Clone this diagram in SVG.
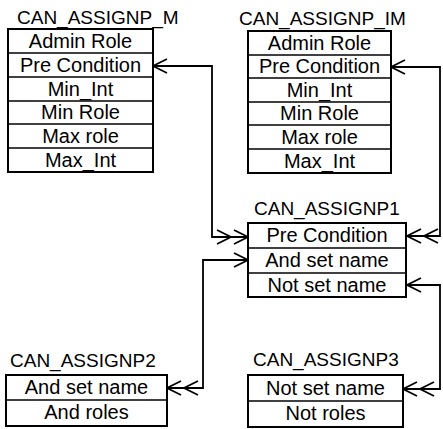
<svg xmlns="http://www.w3.org/2000/svg" width="443" height="429" viewBox="0 0 443 429">
  <style>
    .title { font-family: "Liberation Sans", Arial, sans-serif; font-size: 19px; fill: #000; }
    .cell { font-family: "Liberation Sans", Arial, sans-serif; font-size: 20px; fill: #000; text-anchor: middle; }
    .box { fill: #fff; stroke: #000; stroke-width: 2; }
    .sep { stroke: #000; stroke-width: 1.6; }
    .link { fill: none; stroke: #000; stroke-width: 1.8; }
  </style>
  <defs>
    <!-- single chevron ("one") -->
    <marker id="one" viewBox="-34 -10 36 20" refX="0" refY="0" markerWidth="36" markerHeight="20" markerUnits="userSpaceOnUse" orient="auto-start-reverse" overflow="visible">
      <path d="M-14,-7 L0,0 L-14,7" fill="none" stroke="#000" stroke-width="1.8"/>
    </marker>
    <!-- double chevron ("many") -->
    <marker id="many" viewBox="-34 -10 36 20" refX="0" refY="0" markerWidth="36" markerHeight="20" markerUnits="userSpaceOnUse" orient="auto-start-reverse" overflow="visible">
      <path d="M-14,-7 L0,0 L-14,7 M-31,-7 L-17,0 L-31,7" fill="none" stroke="#000" stroke-width="1.8"/>
    </marker>
  </defs>

  <rect width="443" height="429" fill="#fff"/>

  <!-- relationships -->
  <g id="connectors">
    <path class="link" d="M153,66 H212 V237 H248" marker-start="url(#one)" marker-end="url(#many)"/>
    <path class="link" d="M391,67 H440 V236 H407" marker-start="url(#one)" marker-end="url(#many)"/>
    <path class="link" d="M167,388 H203 V260 H248" marker-start="url(#many)" marker-end="url(#one)"/>
    <path class="link" d="M407,285 H440 V389 H403" marker-start="url(#one)" marker-end="url(#many)"/>
  </g>

  <!-- CAN_ASSIGNP_M -->
  <g id="can_assignp_m">
    <text class="title" x="17" y="24">CAN_ASSIGNP_M</text>
    <rect class="box" x="8" y="29" width="145" height="143"/>
    <line class="sep" x1="8" y1="53" x2="153" y2="53"/>
    <line class="sep" x1="8" y1="77" x2="153" y2="77"/>
    <line class="sep" x1="8" y1="101" x2="153" y2="101"/>
    <line class="sep" x1="8" y1="124" x2="153" y2="124"/>
    <line class="sep" x1="8" y1="148" x2="153" y2="148"/>
    <text class="cell" x="80.5" y="48">Admin Role</text>
    <text class="cell" x="80.5" y="72">Pre Condition</text>
    <text class="cell" x="80.5" y="96">Min_Int</text>
    <text class="cell" x="80.5" y="119">Min Role</text>
    <text class="cell" x="80.5" y="143">Max role</text>
    <text class="cell" x="80.5" y="167">Max_Int</text>
  </g>

  <!-- CAN_ASSIGNP_IM -->
  <g id="can_assignp_im">
    <text class="title" x="239" y="25">CAN_ASSIGNP_IM</text>
    <rect class="box" x="248" y="31" width="143" height="142"/>
    <line class="sep" x1="248" y1="55" x2="391" y2="55"/>
    <line class="sep" x1="248" y1="78" x2="391" y2="78"/>
    <line class="sep" x1="248" y1="102" x2="391" y2="102"/>
    <line class="sep" x1="248" y1="125" x2="391" y2="125"/>
    <line class="sep" x1="248" y1="149" x2="391" y2="149"/>
    <text class="cell" x="319.5" y="50">Admin Role</text>
    <text class="cell" x="319.5" y="73">Pre Condition</text>
    <text class="cell" x="319.5" y="97">Min_Int</text>
    <text class="cell" x="319.5" y="120">Min Role</text>
    <text class="cell" x="319.5" y="144">Max role</text>
    <text class="cell" x="319.5" y="168">Max_Int</text>
  </g>

  <!-- CAN_ASSIGNP1 -->
  <g id="can_assignp1">
    <text class="title" x="254" y="215">CAN_ASSIGNP1</text>
    <rect class="box" x="248" y="223" width="158" height="74"/>
    <line class="sep" x1="248" y1="248" x2="406" y2="248"/>
    <line class="sep" x1="248" y1="273" x2="406" y2="273"/>
    <text class="cell" x="327" y="242">Pre Condition</text>
    <text class="cell" x="327" y="267">And set name</text>
    <text class="cell" x="327" y="292">Not set name</text>
  </g>

  <!-- CAN_ASSIGNP2 -->
  <g id="can_assignp2">
    <text class="title" x="10" y="367">CAN_ASSIGNP2</text>
    <rect class="box" x="6" y="375" width="161" height="51"/>
    <line class="sep" x1="6" y1="400" x2="167" y2="400"/>
    <text class="cell" x="86.5" y="394">And set name</text>
    <text class="cell" x="86.5" y="419">And roles</text>
  </g>

  <!-- CAN_ASSIGNP3 -->
  <g id="can_assignp3">
    <text class="title" x="253" y="366">CAN_ASSIGNP3</text>
    <rect class="box" x="248" y="375" width="155" height="52"/>
    <line class="sep" x1="248" y1="401" x2="403" y2="401"/>
    <text class="cell" x="325.5" y="395">Not set name</text>
    <text class="cell" x="325.5" y="420">Not roles</text>
  </g>
</svg>
